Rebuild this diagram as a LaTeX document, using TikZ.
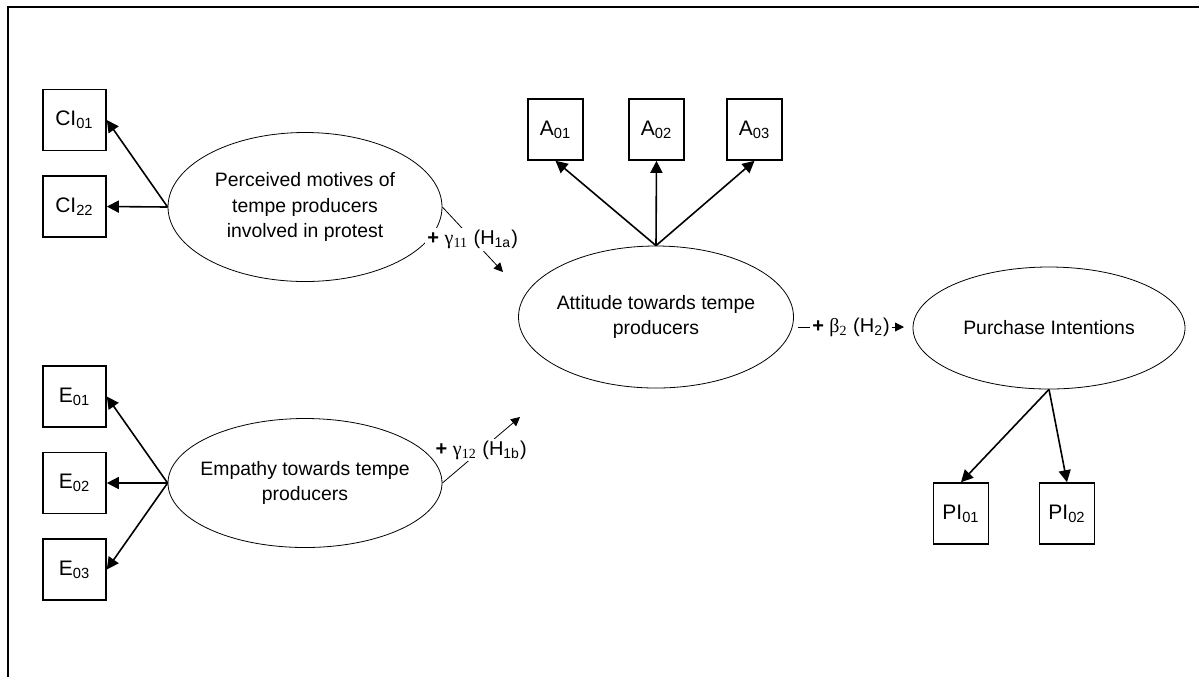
\documentclass[tikz,border=0pt]{standalone}
\usepackage{fontspec}
\setmainfont{Liberation Sans}
\newfontfamily\serifgr{Liberation Serif}
\usetikzlibrary{arrows.meta,shapes.geometric}
\newcommand\grk[1]{{\serifgr #1}}

\begin{document}
\begin{tikzpicture}[x=0.5pt,y=-0.5pt,
  font=\fontsize{9.7}{12.8}\selectfont,
  item/.style={draw,line width=0.8pt,minimum width=31.5pt,minimum height=30.5pt,inner sep=0pt,
    font=\fontsize{10.5}{12}\selectfont},
  small item/.style={item,minimum width=27.5pt},
  latent/.style={draw,ellipse,line width=0.4pt,inner sep=-10pt,align=center},
  load/.style={line width=0.8pt,-{Triangle[length=6pt,width=6pt]}},
  effect/.style={line width=0.4pt,-{Triangle[length=4.5pt,width=4.5pt]}},
  hyp/.style={fill=white,inner sep=1pt,font=\fontsize{10}{12}\selectfont}]
  \useasboundingbox (0,0) rectangle (1199,677);
  \draw[line width=1pt] (8,677) -- (8,7) -- (1199,7);

  % latent constructs
  \node[latent,minimum width=137pt,minimum height=74.5pt] (per) at (305,207)
    {Perceived motives of\\tempe producers\\involved in protest};
  \node[latent,minimum width=137pt,minimum height=64.5pt] (emp) at (305,483)
    {Empathy towards tempe\\producers};
  \node[latent,minimum width=137.5pt,minimum height=71pt] (att) at (656,317)
    {Attitude towards tempe\\producers};
  \node[latent,minimum width=136pt,minimum height=61pt] (pur) at (1049,328)
    {Purchase Intentions};

  % indicators
  \node[item] (ci1) at (74.5,120) {CI\textsubscript{01}};
  \node[item] (ci2) at (74.5,206.5) {CI\textsubscript{22}};
  \node[item] (e1) at (74.5,396.5) {E\textsubscript{01}};
  \node[item] (e2) at (74.5,483) {E\textsubscript{02}};
  \node[item] (e3) at (74.5,569.5) {E\textsubscript{03}};
  \node[small item] (a1) at (555.5,129.5) {A\textsubscript{01}};
  \node[small item] (a2) at (656.5,129.5) {A\textsubscript{02}};
  \node[small item] (a3) at (754.5,129.5) {A\textsubscript{03}};
  \node[small item] (pi1) at (961,513.5) {PI\textsubscript{01}};
  \node[small item] (pi2) at (1067,513.5) {PI\textsubscript{02}};

  % loadings
  \draw[load] (per.west) -- (ci1.east);
  \draw[load] (per.west) -- (ci2.east);
  \foreach \i in {1,2,3} \draw[load] (emp.west) -- (e\i.east);
  \foreach \i in {1,2,3} \draw[load] (att.north) -- (a\i.south);
  \draw[load] (pur.south) -- (pi1.north);
  \draw[load] (pur.south) -- (pi2.north);

  % hypotheses
  \coordinate (g1) at (503,272);
  \coordinate (g2) at (520,417);
  \coordinate (b1) at (798,327);
  \coordinate (b2) at (904,327);
  \draw[effect] (per.east) -- (g1)
    node[midway,hyp] {\textbf{+} \grk{γ\textsubscript{11}} (H\textsubscript{1a})};
  \draw[effect] (emp.east) -- (g2)
    node[midway,hyp] {\textbf{+} \grk{γ\textsubscript{12}} (H\textsubscript{1b})};
  \draw[effect] (b1) -- (b2)
    node[midway,hyp] {\textbf{+} \grk{β\textsubscript{2}} (H\textsubscript{2})};
\end{tikzpicture}
\end{document}
